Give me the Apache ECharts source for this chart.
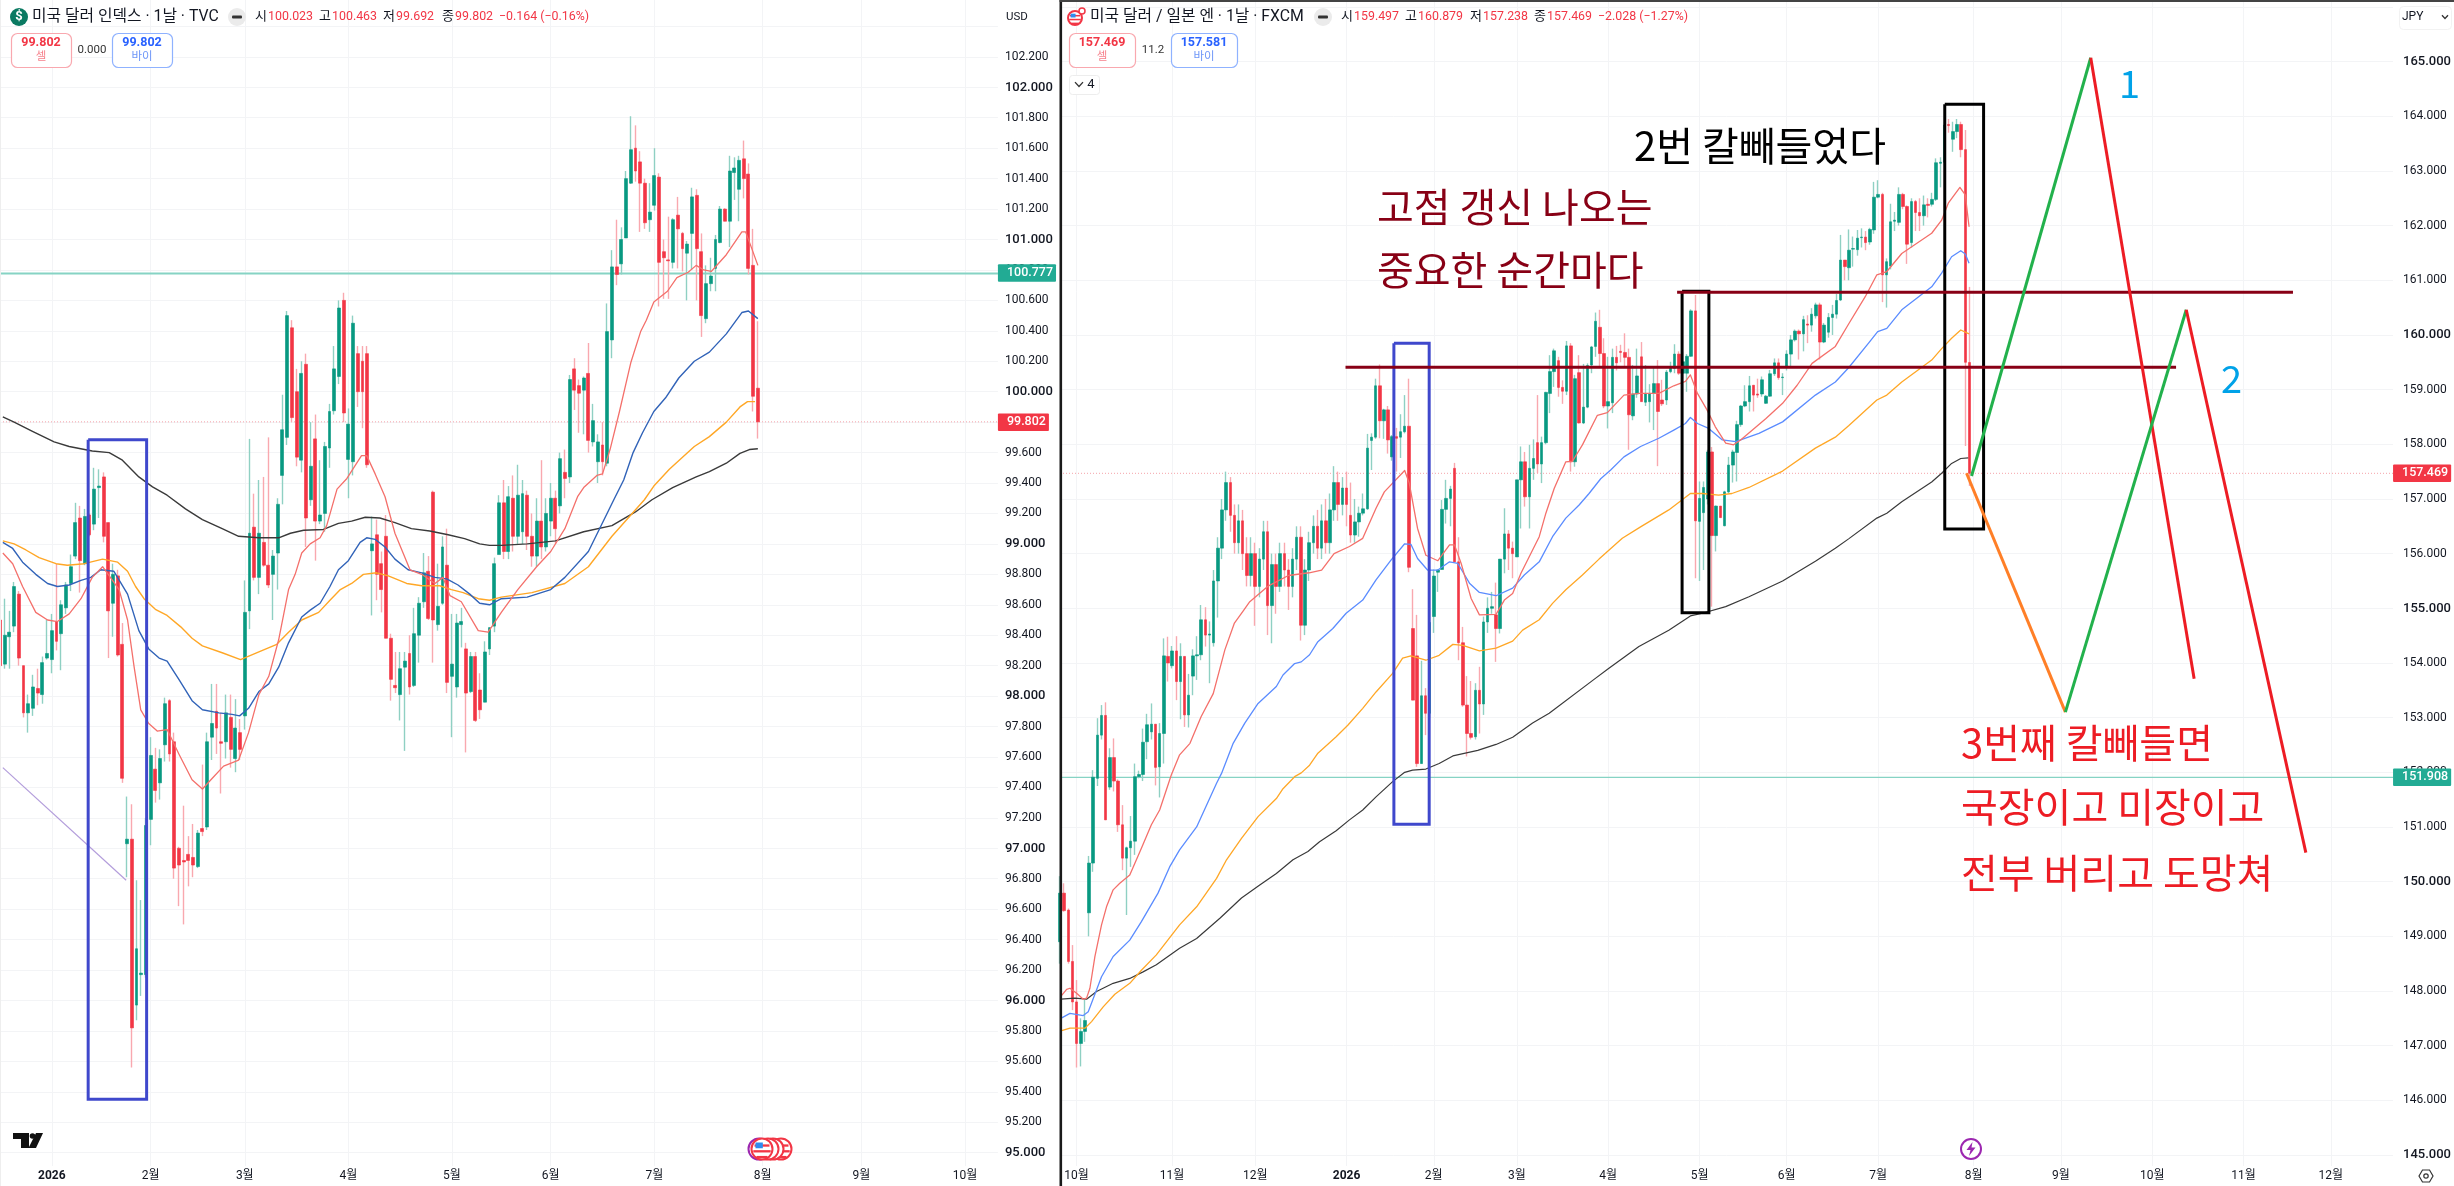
<!DOCTYPE html>
<html><head><meta charset="utf-8">
<script src="https://cdn.jsdelivr.net/npm/echarts@6/dist/echarts.min.js"></script>
<style>html,body{margin:0;padding:0;background:#fff}#c{width:2454px;height:1186px}</style></head>
<body><div id="c"></div>
<script>
// ---------- LEFT PANE : US dollar index, daily ----------
const leftO=[98.5,98.21,98.39,98.46,98.67,98.20,97.89,97.92,98.05,98.01,
98.25,98.24,98.49,98.41,98.58,98.74,98.92,99.17,98.87,99.19,
99.13,99.37,99.44,99.14,98.61,98.79,98.34,97.03,97.06,95.97,
96.17,96.17,97.19,97.52,97.43,97.68,97.97,97.70,97.00,96.92,
96.96,96.94,96.88,97.13,97.14,97.73,97.90,97.70,97.70,97.86,
97.59,97.76,97.87,98.56,99.11,98.78,99.01,98.86,98.80,98.94,
99.45,99.70,100.42,100.0,99.55,100.18,99.29,99.69,99.15,99.20,
99.63,99.875,100.1,100.6,99.555,99.54,100.25,100.2,100.25,98.955,
99.06,98.87,99.05,98.38,98.07,98.01,98.19,98.28,98.07,98.40,
98.62,98.82,99.34,98.47,98.61,98.86,98.13,98.06,98.47,98.31,
98.03,98.26,98.04,97.96,98.31,98.46,98.93,99.27,98.95,99.30,
99.05,99.08,99.32,99.05,98.92,99.15,98.98,99.15,99.3,99.25,
99.47,99.44,100.15,100.04,100.01,100.12,99.67,99.54,99.65,99.53,
100.34,100.82,100.84,101.01,101.37,101.60,101.51,101.37,101.13,101.225,
101.41,100.92,100.866,100.85,101.16,101.04,100.91,101.04,101.29,100.92,
100.48,100.71,100.81,100.98,101.20,101.12,101.44,101.33,101.53,101.43,
100.83,100.023];
const leftH=[98.6,98.64,98.56,98.75,98.69,98.20,98.01,98.14,98.18,98.26,
98.50,98.54,98.87,98.63,98.75,98.93,99.27,99.25,99.23,99.20,
99.50,99.49,99.47,99.14,98.87,98.83,98.48,97.34,97.29,96.79,
96.66,97.20,97.73,97.66,97.65,97.99,97.98,97.76,97.01,97.28,
97.08,97.16,97.12,97.55,97.76,98.08,98.08,97.89,98.01,98.01,
97.98,97.85,98.76,99.69,99.33,99.42,99.44,99.70,98.96,99.30,
99.98,100.53,100.47,100.15,100.2,100.25,99.80,99.85,99.55,99.67,
99.92,100.3,100.60,100.65,99.89,100.5,100.3,100.3,100.3,99.18,
99.16,98.95,99.19,98.41,98.29,98.29,98.29,98.40,98.58,98.65,
98.94,98.92,99.35,98.87,99.05,99.10,98.54,98.54,98.58,98.35,
98.29,98.29,98.15,98.36,98.45,98.91,99.32,99.42,99.38,99.45,
99.52,99.42,99.35,99.2,99.3,99.55,99.3,99.40,99.35,99.6,
99.62,100.11,100.22,100.08,100.10,100.32,99.92,99.72,99.80,100.58,
100.93,101.13,101.08,101.45,101.81,101.75,101.58,101.40,101.37,101.60,
101.435,101.0,101.15,101.14,101.28,101.05,100.99,101.34,101.33,101.04,
100.83,100.88,101.03,101.22,101.205,101.55,101.54,101.55,101.65,101.50,
101.07,100.463];
const leftL=[98.1,98.18,98.18,98.42,98.20,97.86,97.76,97.87,97.94,97.95,
98.24,98.15,98.30,98.17,98.54,98.69,98.90,98.68,98.86,99.05,
99.09,99.17,99.01,98.25,98.39,98.26,97.43,96.81,95.56,95.87,
96.03,96.15,97.02,97.30,97.32,97.57,97.57,96.80,96.62,96.50,
96.75,96.81,96.87,97.08,97.12,97.58,97.62,97.36,97.59,97.53,
97.50,97.58,97.78,98.44,98.76,98.67,98.85,98.71,98.50,98.70,
99.26,99.65,99.80,99.51,99.47,98.98,99.25,98.89,99.13,99.08,
99.50,99.85,100.05,99.8,99.30,99.45,99.9,99.76,99.5,98.53,
98.63,98.55,98.38,97.97,98.02,97.84,97.64,98.01,98.06,98.22,
98.58,98.50,98.22,98.43,98.60,98.02,97.73,97.99,98.32,97.63,
98.02,97.83,97.85,97.96,98.27,98.42,99.0,98.90,98.90,98.95,
99.0,99.0,98.96,98.85,98.85,98.9,98.95,99.05,99.0,99.2,
99.3,99.4,99.88,99.73,99.72,99.60,99.64,99.40,99.45,99.51,
100.22,100.70,100.77,101.01,101.365,101.38,101.05,101.07,101.05,101.19,
100.56,100.61,100.61,100.81,100.81,100.79,100.60,100.80,100.60,100.36,
100.45,100.66,100.66,100.975,101.12,100.95,101.26,101.12,101.27,100.77,
99.87,99.692];
const leftC=[98.2,98.40,98.42,98.72,98.25,97.89,97.95,98.06,98.02,98.22,
98.28,98.43,98.36,98.60,98.73,98.85,99.14,98.89,99.18,99.06,
99.36,99.38,99.05,98.56,98.80,98.27,97.46,97.06,95.82,96.34,
96.18,97.15,97.61,97.38,97.59,97.95,97.62,96.87,96.89,96.91,
96.92,96.89,97.10,97.11,97.70,97.82,97.79,97.69,97.89,97.65,
97.79,97.65,98.55,99.07,98.78,99.07,98.86,98.73,98.92,99.26,
99.75,100.50,99.83,99.57,100.12,99.17,99.51,99.15,99.19,99.64,
99.87,100.15,100.55,99.86,99.787,100.45,100.0,100.0,99.52,99.0,
98.80,98.70,98.38,98.11,98.055,98.18,98.23,98.06,98.41,98.61,
98.81,98.51,98.50,98.59,98.98,98.09,98.21,98.48,98.49,98.02,
98.26,97.84,97.91,98.29,98.45,98.87,99.27,98.95,99.31,99.05,
99.32,99.33,99.05,98.92,99.15,98.98,99.2,99.3,99.1,99.56,
99.43,100.08,100.01,99.99,100.09,99.68,99.81,99.67,99.54,100.395,
100.82,100.77,101.0,101.40,101.59,101.45,101.37,101.11,101.18,101.42,
100.85,100.88,100.86,101.13,101.07,100.94,100.97,101.28,100.94,100.50,
100.71,100.76,101.0,101.20,101.12,101.45,101.47,101.52,101.40,100.81,
99.97,99.802];
const leftRedMA=[[.6,98.94],[2.7,98.87],[4.8,98.72],[7.6,98.55],[10.1,98.50],[12.2,98.49],[14.7,98.54],[17.2,98.64],[19.6,98.78],[21.8,98.85],[23.9,98.76],[25.3,98.70],[27.1,98.50],[28.5,98.19],[29.9,97.91],[31.6,97.82],[33.4,97.77],[35.5,97.78],[38,97.62],[40.8,97.45],[43,97.39],[45.1,97.46],[47.5,97.54],[50.7,97.58],[52.8,97.76],[55,98.01],[57.1,98.13],[59.2,98.37],[61.3,98.70],[62.7,98.80],[64.1,98.94],[65.9,99.0],[68,99.04],[69.4,99.12],[71.6,99.36],[73.7,99.43],[76.8,99.58],[77.9,99.58],[79.7,99.46],[81.8,99.31],[83.9,99.07],[87.1,98.83],[89.6,98.80],[92.4,98.74],[94.1,98.78],[95.6,98.66],[98,98.62],[101.6,98.43],[103.7,98.42],[106.5,98.55],[110,98.70],[114,98.85],[117,98.95],[120,99.1],[122.7,99.31],[124,99.37],[126.8,99.45],[128,99.46],[129.6,99.62],[131.6,99.87],[134,100.19],[136.1,100.395],[137.3,100.47],[138.9,100.59],[141.8,100.66],[143.8,100.75],[146.2,100.785],[147.9,100.83],[149.5,100.80],[151.1,100.79],[154.3,100.90],[157.6,101.05],[158.4,101.05],[159.6,100.95],[161,100.83]];
const leftBlueMA=[[.6,99.01],[2.7,98.97],[4.8,98.88],[7.6,98.80],[10.1,98.74],[12.2,98.72],[14.7,98.73],[17.2,98.76],[19.3,98.78],[21.4,98.83],[24.2,98.82],[27.1,98.67],[29.5,98.43],[31.6,98.31],[33.8,98.25],[35.5,98.23],[38,98.11],[40.8,97.97],[43,97.91],[46.5,97.89],[49.3,97.88],[50.9,97.87],[52.8,97.92],[55,98.03],[57.1,98.08],[59.2,98.19],[61.3,98.35],[64.1,98.52],[65.9,98.565],[68,98.61],[70.1,98.72],[71.9,98.83],[74,98.89],[76.5,99.01],[77.9,99.04],[79.7,99.03],[81.8,98.98],[83.9,98.90],[86.7,98.83],[89.6,98.81],[92.4,98.78],[94.9,98.77],[97.3,98.73],[99.8,98.67],[101.9,98.61],[104,98.60],[106.5,98.64],[112,98.65],[117,98.70],[120,98.78],[125,98.95],[130.4,99.29],[132.5,99.42],[134.5,99.60],[136.5,99.73],[138.9,99.87],[141.4,99.96],[144.2,100.09],[147.5,100.20],[150.7,100.26],[154.3,100.38],[157.6,100.52],[159,100.53],[161,100.48]];
const leftOrangeMA=[[.6,99.02],[3,99.0],[5.5,98.96],[8.3,98.91],[11.9,98.87],[14.3,98.86],[17.9,98.87],[21.8,98.90],[25,98.88],[27.1,98.82],[28.8,98.72],[30.6,98.64],[33,98.57],[35.5,98.53],[38.4,98.455],[40.8,98.38],[43,98.33],[47.2,98.285],[51.1,98.24],[55,98.29],[58.8,98.34],[61.3,98.42],[64.1,98.50],[67.7,98.55],[70.1,98.63],[72.3,98.70],[74.7,98.74],[77.2,98.80],[80,98.81],[82.5,98.79],[86.4,98.74],[89.6,98.725],[93.4,98.725],[95.9,98.70],[98.4,98.68],[101.6,98.64],[104,98.63],[106.5,98.65],[113,98.68],[120,98.74],[125,98.85],[130,99.05],[136.9,99.29],[138.9,99.38],[142.2,99.49],[147.5,99.64],[150.7,99.705],[154.3,99.80],[157.2,99.90],[158.8,99.935],[160.4,99.935]];
const leftBlackMA=[[.6,99.835],[3,99.80],[6.9,99.74],[11.5,99.67],[14.7,99.64],[19.6,99.61],[23.2,99.60],[26,99.55],[29.5,99.44],[32.4,99.375],[35.5,99.32],[39.4,99.23],[43,99.16],[47.2,99.10],[50.7,99.05],[55,99.04],[59.2,99.04],[61.7,99.07],[64.5,99.09],[68.7,99.095],[71.9,99.135],[74.7,99.15],[77.6,99.175],[80.7,99.17],[83.9,99.14],[87.4,99.10],[91.3,99.085],[95.2,99.06],[98.7,99.035],[101.9,99.0],[104,98.99],[106.5,98.99],[112,99.0],[118,99.02],[124,99.08],[130,99.12],[135,99.21],[138.5,99.29],[142.9,99.37],[147.9,99.44],[150.7,99.475],[154.3,99.53],[157.2,99.595],[159.2,99.62],[161,99.625]];
const leftTrend=[[.6,97.53],[26.8,96.79]];
const leftBox=[[18.73,99.685],[31.15,99.685],[31.15,95.351],[18.73,95.351],[18.73,99.685]];
const leftTicks=[95,95.2,95.4,95.6,95.8,96,96.2,96.4,96.6,96.8,97,97.2,97.4,97.6,97.8,98,98.2,98.4,98.6,98.8,99,99.2,99.4,99.6,99.8,100,100.2,100.4,100.6,100.8,101,101.2,101.4,101.6,101.8,102,102.2];
const leftGridOnly=[102.4];
const leftMonthBars=[11,32,52,74,96,117,139,162,183,205];
const leftMonthLabels=['2026','2월','3월','4월','5월','6월','7월','8월','9월','10월'];
const leftAlert=100.777, leftLast=99.802;

// ---------- RIGHT PANE : USD/JPY, daily ----------
const rightO=[148.9,149.79,149.48,148.54,147.80,147.04,147.26,149.43,150.34,151.89,
152.68,153.04,151.73,152.27,151.84,151.04,150.43,150.62,150.74,151.92,
151.96,152.56,152.74,152.88,152.1,152.71,154.12,153.95,154.22,153.66,
154.12,153.05,153.76,154.13,154.15,154.79,154.51,154.37,155.5,156.1,
156.8,157.3,156.7,156.2,156.6,156.0,155.6,156.0,155.4,155.9,
156.4,155.05,155.8,155.4,156.0,155.7,155.4,155.9,156.3,154.69,
155.7,156.2,156.5,156.1,156.6,156.2,156.8,157.3,156.9,157.2,
156.7,156.34,156.58,156.74,156.82,158.07,158.13,159.07,158.43,158.63,
157.77,158.14,158.13,158.23,158.33,154.63,154.13,152.16,153.4,153.08,
154.85,155.66,155.71,156.81,157.01,157.56,155.85,154.37,153.23,152.71,
152.65,153.5,153.25,154.75,155.0,154.88,154.63,155.9,156.36,156.1,
155.94,157.35,157.68,157.04,157.56,158.03,157.64,158.03,158.93,159.33,
159.53,159.04,158.97,159.8,157.68,159.31,158.39,158.68,159.45,159.79,
160.14,159.66,158.7,158.76,159.59,159.7,159.68,159.59,158.52,158.92,
159.6,158.77,158.78,158.93,159.11,158.81,158.81,159.33,159.39,159.65,
159.3,159.3,159.61,160.44,156.59,156.75,157.0,157.86,156.33,156.87,
156.51,157.13,157.62,157.85,158.36,158.7,158.78,159.08,158.92,158.92,
158.75,158.88,159.29,159.49,159.22,159.43,159.65,159.91,160.07,160.02,
160.2,160.18,160.35,160.55,159.87,160.05,160.32,160.38,160.64,161.37,
161.23,161.57,161.56,161.78,161.79,161.7,161.92,162.52,162.57,161.1,
161.26,162.08,162.06,162.57,162.35,161.69,162.44,162.24,162.18,162.39,
162.39,162.48,163.14,163.16,163.85,163.58,163.72,163.85,163.39,159.497];
const rightH=[150.1,149.97,149.51,148.84,148.2,147.5,147.84,150.47,152.04,152.99,
153.23,153.28,152.44,152.62,151.87,151.4,150.64,151.2,152.16,152.03,
152.8,153.07,153.26,152.88,152.9,154.45,154.48,154.31,154.49,154.36,
154.12,153.8,154.25,154.49,155.06,155.02,154.76,155.7,156.3,157.0,
157.5,157.4,156.9,156.9,156.8,156.3,156.3,156.2,156.1,156.6,
156.6,156.0,156.0,156.2,156.2,155.9,156.1,156.5,156.5,155.9,
156.4,156.7,156.8,156.9,157.0,157.1,157.6,157.5,157.4,157.5,
157.3,157.0,156.86,157.1,158.19,158.2,159.2,159.46,158.65,158.7,
158.17,158.3,158.55,158.9,159.2,155.35,154.88,154.04,153.54,155.0,
155.71,155.71,156.98,157.35,157.24,157.66,156.3,154.66,153.76,153.67,
153.63,153.93,154.85,155.2,155.3,155.47,155.9,156.83,156.43,156.22,
157.35,157.96,157.86,157.99,158.09,158.9,158.14,158.96,159.63,159.75,
159.6,159.17,159.89,159.85,159.27,159.63,159.47,159.48,159.8,160.41,
160.46,159.94,159.6,159.75,159.8,159.82,160.03,159.75,159.45,159.75,
159.87,159.45,159.1,159.41,159.54,159.18,159.36,159.51,159.83,159.7,
159.7,159.65,160.47,160.73,157.32,157.32,157.9,157.95,156.88,156.87,
157.15,157.77,157.9,158.43,158.72,159.08,159.25,159.08,159.2,159.24,
158.9,159.36,159.57,159.57,159.3,159.72,160.0,160.1,160.1,160.35,
160.36,160.49,160.59,160.59,160.22,160.4,160.55,160.75,161.83,161.37,
161.93,161.8,161.92,161.95,161.9,161.96,162.8,162.83,162.6,161.4,
162.4,162.25,162.7,162.6,162.37,162.5,162.47,162.5,162.55,162.5,
162.6,163.23,163.25,163.9,163.95,163.9,163.95,163.9,163.75,160.879];
const rightL=[148.5,149.45,148.50,147.65,146.60,146.62,147.07,149.0,150.18,151.75,
152.6,151.13,151.68,151.65,150.91,150.21,149.39,150.27,150.49,151.89,
151.84,152.24,152.6,151.76,151.54,152.16,153.66,153.9,153.32,152.97,
152.83,152.82,153.41,153.69,154.05,154.3,153.63,154.3,154.83,155.9,
156.6,156.4,156.0,156.0,155.7,155.4,155.4,154.68,155.2,155.7,
154.51,154.36,154.9,155.3,155.4,154.97,155.2,155.7,154.41,154.51,
155.5,156.0,155.9,155.9,156.0,156.0,156.6,156.6,156.7,156.5,
156.2,156.2,156.31,156.7,156.8,157.53,158.1,158.11,158.1,157.83,
157.7,157.5,157.75,158.2,155.66,153.32,152.1,152.16,152.68,153.0,
154.55,155.3,155.71,156.55,156.5,155.85,154.05,153.2,152.29,152.6,
152.6,152.71,153.05,154.55,154.9,154.02,154.54,155.64,155.7,155.55,
155.94,156.46,156.86,156.46,157.35,157.47,157.29,158.0,158.57,159.05,
158.87,158.74,158.9,157.5,157.59,158.38,158.37,158.66,159.3,159.6,
159.42,158.66,158.29,158.57,159.35,159.5,159.4,157.9,158.44,158.85,
158.78,158.7,158.4,158.26,157.6,158.7,158.72,159.3,159.3,159.27,
159.2,158.96,159.6,155.55,155.5,155.7,156.9,155.03,156.04,156.65,
156.5,157.1,157.3,157.32,158.32,158.68,158.6,158.6,158.85,158.87,
158.74,158.87,159.25,159.18,158.9,159.35,159.4,159.88,159.55,159.7,
159.85,160.06,160.3,159.55,159.85,159.95,160.0,160.3,160.62,161.0,
161.0,161.25,161.45,161.6,161.55,161.65,161.85,162.5,160.6,160.5,
161.2,161.9,162.0,162.3,161.3,161.6,161.9,161.9,162.0,162.15,
162.35,162.45,162.7,163.1,163.7,163.35,163.6,163.25,157.97,157.238];
const rightC=[149.79,149.47,148.54,147.80,147.04,147.26,147.46,150.34,151.91,152.68,
153.04,151.13,152.27,151.84,151.04,150.43,150.62,150.74,151.92,151.96,
152.55,152.87,152.88,152.09,152.71,154.13,154.0,154.22,153.66,154.12,
153.05,153.41,154.13,154.15,154.79,154.51,154.53,155.5,156.1,156.8,
157.3,156.7,156.2,156.6,156.0,155.6,156.0,155.4,155.9,156.4,
155.05,155.8,155.4,156.0,155.7,155.4,155.9,156.3,154.69,155.7,
156.2,156.5,156.1,156.6,156.2,156.8,157.3,156.9,157.2,156.9,
156.34,156.58,156.74,156.82,157.93,158.13,159.07,158.43,158.63,158.08,
158.14,158.11,158.23,158.33,155.75,153.32,152.16,153.4,153.08,154.74,
155.59,155.7,156.81,157.01,157.18,155.85,154.37,153.23,152.71,152.64,
153.5,153.25,154.75,155.0,155.03,154.63,155.9,156.36,156.1,156.0,
157.35,157.68,157.04,157.56,157.74,157.64,158.03,158.95,159.33,159.71,
159.04,158.97,159.8,157.68,159.2,158.39,158.68,159.44,159.78,160.25,
159.66,158.7,158.78,159.59,159.49,159.68,159.59,158.54,158.92,159.25,
158.78,158.93,158.93,159.11,158.6,158.74,159.32,159.41,159.65,159.3,
159.51,159.61,160.44,156.6,157.01,157.21,157.86,156.33,156.87,156.66,
157.13,157.62,157.86,158.36,158.7,158.78,159.07,158.9,158.9,159.18,
158.88,159.29,159.49,159.22,159.23,159.65,159.91,160.07,160.02,160.28,
160.18,160.38,160.55,159.87,160.18,160.32,160.38,160.63,161.37,161.25,
161.55,161.58,161.77,161.79,161.69,161.93,162.52,162.57,161.1,161.34,
162.07,162.1,162.57,162.35,161.66,162.44,162.24,162.18,162.38,162.37,
162.48,163.15,163.16,163.84,163.83,163.72,163.85,163.39,159.5,157.469];
const rightRedMA=[[.2,147.9],[1.6,148.03],[2.4,148.05],[4,147.96],[5.6,147.85],[6.4,147.87],[7.2,148.05],[8.4,148.63],[10,149.21],[11.2,149.54],[12.8,149.85],[14.4,149.97],[16.8,150.12],[19.6,150.61],[22,151.04],[24,151.31],[26.8,151.95],[28.8,152.32],[31.3,152.53],[34,153.02],[36.9,153.44],[39.7,154.24],[42,154.73],[44,154.94],[45.7,155.12],[50,155.4],[55,155.6],[60,155.65],[63,155.7],[66,156.0],[69.7,156.13],[72.9,156.28],[76.1,156.83],[78.1,157.13],[83,157.52],[84.1,157.29],[86.1,156.46],[88.1,155.97],[91,155.87],[93.8,156.16],[95,156.16],[96.6,155.82],[99,155.18],[101,154.88],[105,154.89],[107,155.15],[109,155.27],[111,155.64],[115.4,156.31],[117,156.74],[119,157.19],[121.8,157.68],[123.4,157.69],[125.8,157.99],[129.4,158.53],[131.8,158.58],[135.8,158.9],[139.4,158.93],[144.2,158.93],[147.8,159.07],[150.6,159.15],[151.8,159.27],[153.5,158.93],[155.8,158.63],[157.8,158.32],[160.3,158.02],[162.2,157.99],[163.9,158.08],[170,158.47],[174,158.75],[177.5,159.08],[181.1,159.48],[186.7,159.79],[189.9,160.2],[193.9,160.7],[196.7,161.1],[199.1,161.16],[202.7,161.49],[209.9,161.86],[212.3,162.1],[213.9,162.41],[216.7,162.7],[218,162.56],[218.9,161.98]];
const rightBlueMA=[[.2,147.5],[2.4,147.59],[5.6,147.55],[6.8,147.62],[10,148.26],[12.8,148.63],[16.8,148.93],[19.6,149.27],[23.6,149.79],[26.4,150.27],[28.8,150.58],[32.9,151.0],[37.7,151.8],[38.9,151.98],[41.7,152.53],[44.5,152.9],[47.7,153.26],[52.1,153.57],[53.7,153.78],[56.5,153.99],[58.1,154.02],[60.1,154.15],[62.1,154.39],[65.7,154.63],[68.9,154.91],[72.9,155.15],[76.1,155.52],[79.7,155.88],[83,156.18],[84.5,156.17],[86.1,155.91],[88.5,155.7],[91,155.7],[93.8,155.85],[95.8,155.82],[98.6,155.46],[101,155.29],[105,155.23],[109,155.37],[111.8,155.61],[115.4,155.85],[118.6,156.31],[121.8,156.65],[125,156.89],[127.4,157.1],[130.2,157.37],[132.6,157.53],[135.8,157.77],[139.8,157.96],[144.2,158.11],[147.8,158.26],[150.6,158.38],[151.8,158.49],[153.5,158.38],[156.2,158.29],[159.5,158.08],[162.7,158.05],[168.3,158.2],[174,158.41],[181.9,158.9],[186.7,159.14],[189.9,159.4],[194.7,159.85],[196.9,160.06],[199.1,160.12],[202.7,160.46],[209.9,160.88],[212.3,161.13],[214.7,161.43],[216.9,161.54],[218,161.48],[218.9,161.31]];
const rightOrangeMA=[[.2,147.27],[2.4,147.32],[6,147.32],[7.6,147.44],[10.4,147.71],[13.2,147.94],[16.8,148.14],[19.6,148.38],[23.2,148.66],[28.8,149.21],[32.9,149.54],[37.7,150.06],[40.1,150.4],[43.7,150.79],[47.7,151.19],[52.1,151.52],[53.7,151.7],[56.5,151.92],[58.1,151.99],[60.1,152.13],[62.1,152.35],[66.5,152.65],[69.3,152.86],[72.9,153.17],[76.1,153.47],[80.1,153.81],[82.5,154.09],[84.5,154.13],[88.1,154.05],[91.3,154.14],[94.6,154.34],[97,154.32],[101,154.22],[105,154.27],[109,154.4],[111.4,154.6],[115.4,154.79],[118.6,155.09],[121.8,155.34],[125.8,155.61],[129.8,155.9],[135.4,156.28],[139.8,156.49],[146.6,156.8],[151.8,157.1],[154.7,157.1],[158.6,157.07],[161.8,157.1],[165.9,157.21],[174,157.51],[181.9,157.93],[186.7,158.13],[189.9,158.34],[196.7,158.81],[199.1,158.9],[202.7,159.14],[209.9,159.54],[212.3,159.75],[214.7,159.94],[216.9,160.09],[218.9,160.02]];
const rightBlackMA=[[.2,147.85],[3.6,147.87],[6.4,147.85],[8.8,147.99],[12.8,148.14],[16.8,148.23],[20,148.35],[23.2,148.48],[28.8,148.78],[32.9,148.96],[38.5,149.33],[43.7,149.7],[48.1,149.94],[52.1,150.15],[56.1,150.4],[59.7,150.55],[62.5,150.73],[66.5,150.93],[69.7,151.13],[72.9,151.31],[76.1,151.55],[80.1,151.83],[83,152.0],[84.9,152.04],[88.1,152.06],[91.3,152.16],[94.6,152.3],[100.6,152.4],[105,152.51],[109,152.64],[113.8,152.9],[117.8,153.08],[128.6,153.7],[132.1,153.9],[139.4,154.3],[146.6,154.6],[151.8,154.86],[154.7,154.91],[160.3,155.03],[165.9,155.21],[174,155.5],[181.9,155.86],[186.7,156.1],[189.9,156.27],[196.7,156.65],[199.1,156.74],[202.7,156.95],[209.9,157.31],[212.3,157.47],[214.7,157.65],[216.9,157.74],[218.7,157.75]];
const rightBlueBox=[[80.4,159.85],[88.9,159.85],[88.9,151.05],[80.4,151.05],[80.4,159.85]];
const rightBlackBox1=[[149.8,160.80],[156.25,160.80],[156.25,154.92],[149.8,154.92],[149.8,160.80]];
const rightBlackBox2=[[213.05,164.22],[222.4,164.22],[222.4,156.45],[213.05,156.45],[213.05,164.22]];
const rightLevelLow=[[68.75,159.41],[268.75,159.41]];
const rightLevelHigh=[[148.6,160.78],[296.9,160.78]];
const rightGreen1=[[219.5,157.42],[248.2,165.07]];
const rightRed1=[[248.2,165.07],[273.1,153.71]];
const rightOrange=[[218.3,157.47],[242.1,153.10]];
const rightGreen2=[[242.1,153.10],[271.2,160.46]];
const rightRed2=[[271.2,160.46],[300,150.53]];
const rightTicks=[145,146,147,148,149,150,151,152,153,154,155,156,157,158,159,160,161,162,163,164,165];
const rightGridOnly=[166];
const rightMonthBars=[4,27,47,69,90,110,132,154,175,197,220,241,263,285,306];
const rightMonthLabels=['10월','11월','12월','2026','2월','3월','4월','5월','6월','7월','8월','9월','10월','11월','12월'];
const rightAlert=151.908, rightLast=157.469;

// ---------- drawing helpers ----------
const FONT='Roboto, "Noto Sans CJK KR", sans-serif';
const KFONT='"Noto Sans CJK KR", sans-serif';
const UP='#089981', DOWN='#F23645', UPW='#8FD0C3', DOWNW='#F9A8AF', INK='#131722';

function pane(idx,cfg){
  const cats=Array.from({length:cfg.count},(_,i)=>String(i));
  const labelAt=new Map(cfg.monthBars.map((b,i)=>[String(b),cfg.monthLabels[i]]));
  const isTick=(i)=>labelAt.has(String(i));
  const grid={left:cfg.left,width:cfg.width,top:0,height:1166,containLabel:false};
  const gridLine={show:true,lineStyle:{color:'#F3F4F6',width:1}};
  const xCat={type:'category',gridIndex:idx,data:cats,boundaryGap:false,position:'bottom',
    axisLine:{show:false},axisTick:{show:false},splitLine:{...gridLine,interval:(i)=>isTick(i)},
    axisLabel:{show:true,interval:(i)=>isTick(i),margin:4,color:INK,fontSize:12,fontFamily:FONT,
      formatter:(v)=>{const s=labelAt.get(v)||'';return s==='2026'?'{b|2026}':s;},
      rich:{b:{fontWeight:'bold',fontSize:12,color:INK,fontFamily:FONT}}}};
  const xVal={type:'value',gridIndex:idx,show:false,min:0,max:cfg.count-1,position:'top',splitLine:{show:false}};
  const y={type:'value',gridIndex:idx,position:'right',min:cfg.min,max:cfg.max,scale:true,
    axisLine:{show:false},
    axisTick:{show:false,customValues:cfg.ticks.concat(cfg.gridOnly)},
    splitLine:gridLine,
    axisLabel:{show:true,margin:cfg.margin,color:INK,fontSize:12,fontFamily:FONT,customValues:cfg.ticks,
      formatter:(v)=>{const s=v.toFixed(3);return cfg.major(v)?'{b|'+s+'}':s;},
      rich:{b:{fontWeight:500,fontSize:13,color:INK,fontFamily:FONT}}}};
  const xc=idx*2, xv=idx*2+1;
  const wick=cfg.o.map((o,i)=>[o,cfg.c[i],cfg.l[i],cfg.h[i]]);
  const body=cfg.o.map((o,i)=>[o,cfg.c[i],Math.min(o,cfg.c[i]),Math.max(o,cfg.c[i])]);
  const base={type:'candlestick',xAxisIndex:xc,yAxisIndex:idx,animation:false,silent:true,clip:true};
  const series=[
    {...base,data:wick,barWidth:1,itemStyle:{color:UPW,color0:DOWNW,borderColor:UPW,borderColor0:DOWNW,borderWidth:1.4}},
    {...base,data:body,barWidth:cfg.bodyWidth,itemStyle:{color:UP,color0:DOWN,borderColor:UP,borderColor0:DOWN,borderWidth:0.6}}
  ];
  const line=(data,color,width,extra)=>({type:'line',xAxisIndex:xv,yAxisIndex:idx,data,showSymbol:false,symbol:'none',animation:false,silent:true,clip:true,
    lineStyle:{color,width,join:'round',...(extra||{})},z:3});
  cfg.mas.forEach(m=>series.push(line(m[0],m[1],m[2])));
  const priceLine=(v,color,width,type,labelColor,z)=>({...line([[0,v],[cfg.count-1,v]],color,width,{type}),z:z,
    markLine:{silent:true,symbol:'none',animation:false,lineStyle:{color:'transparent',width:0},
      data:[{yAxis:v}],label:{show:true,position:'end',distance:0,formatter:v.toFixed(3),color:'#fff',backgroundColor:labelColor,fontWeight:500,
        padding:[3,cfg.badgePad,2,9],fontSize:12.5,fontFamily:FONT,borderRadius:1}}});
  series.push(priceLine(cfg.alert,'#86D3C4',cfg.alertWidth,'solid','#22AB94',2));
  series.push(priceLine(cfg.last,'#F5A3AA',1,[1,2],'#F23645',2));
  cfg.drawings.forEach(d=>{const s=line(d[0],d[1],d[2],{join:'miter'});s.z=5;series.push(s);});
  return {grid,axesX:[xCat,xVal],y,series};
}

const L=pane(0,{left:-2.72,width:1000.64,count:213,min:95-(1166-1152.7)/152.2,max:95+1152.7/152.2,
  o:leftO,h:leftH,l:leftL,c:leftC,bodyWidth:3.4,margin:7,badgePad:3,ticks:leftTicks,gridOnly:leftGridOnly,
  major:(v)=>Math.abs(v-Math.round(v))<1e-6,monthBars:leftMonthBars,monthLabels:leftMonthLabels,alert:leftAlert,alertWidth:2,last:leftLast,
  mas:[[leftBlackMA,'#3A3A3A',1.4],[leftOrangeMA,'#FFA726',1.4],[leftBlueMA,'#3163B8',1.4],[leftRedMA,'#F4706B',1.3]],
  drawings:[[leftTrend,'#B39DDB',1.2],[leftBox,'#3F48CC',3]]});
const R=pane(1,{left:1060,width:1335.36,count:322,min:145-(1166-1155)/54.67,max:145+1155/54.67,
  o:rightO,h:rightH,l:rightL,c:rightC,bodyWidth:3,margin:10,badgePad:3,ticks:rightTicks,gridOnly:rightGridOnly,
  major:(v)=>v%5===0,monthBars:rightMonthBars,monthLabels:rightMonthLabels,alert:rightAlert,alertWidth:1.4,last:rightLast,
  mas:[[rightBlackMA,'#3A3A3A',1.2],[rightOrangeMA,'#FFA726',1.3],[rightBlueMA,'#5B8CFF',1.3],[rightRedMA,'#F4706B',1.3]],
  drawings:[[rightBlueBox,'#3F48CC',3],[rightBlackBox1,'#000',3],[rightBlackBox2,'#000',3],[rightLevelLow,'#880015',3],[rightLevelHigh,'#880015',3],
    [rightGreen1,'#22B14C',3],[rightRed1,'#ED1C24',3],[rightOrange,'#FF7F27',3],[rightGreen2,'#22B14C',3],[rightRed2,'#ED1C24',3]]});

// ---------- chrome : legends, buttons, notes ----------
const g=[];
const text=(x,y,t,fill,font,align)=>g.push({type:'text',x,y,z:50,silent:true,style:{text:t,fill,font,align:align||'left',verticalAlign:'middle'}});
const rect=(x,y,w,h,fill,stroke,r,lw)=>g.push({type:'rect',z:49,silent:true,shape:{x,y,width:w,height:h,r:r||0},style:{fill:fill||'none',stroke:stroke||'none',lineWidth:lw||1}});
const circle=(cx,cy,r,fill,stroke,lw)=>g.push({type:'circle',z:49,silent:true,shape:{cx,cy,r},style:{fill:fill||'none',stroke:stroke||'none',lineWidth:lw||1}});
const poly=(pts,fill)=>g.push({type:'polygon',z:49,silent:true,shape:{points:pts},style:{fill}});
const chevron=(cx,cy,w)=>g.push({type:'polyline',z:50,silent:true,shape:{points:[[cx-w,cy-w*.6],[cx,cy+w*.5],[cx+w,cy-w*.6]]},style:{fill:'none',stroke:'#333',lineWidth:1.3}});
const flag=(cx,cy,r)=>{circle(cx,cy,r,'#fff','#F23645',2);
  for(let i=-1;i<=1;i++){const o=(i+.2)*r*.55;const w=Math.sqrt(Math.max(0,r*r*.7-o*o));rect(cx-w,cy+o,2*w,r*.22,'#F23645');}
  rect(cx-r*.62,cy-r*.62,r*.7,r*.55,'#2E8BEF');};

function legend(title,titleX,minusX,vals,boxL,boxW,gapX,boxR,sell,buy,spread){
  text(titleX,17,title,INK,'15.8px '+FONT);
  circle(minusX,17,9,'#EBEBEB'); rect(minusX-5,15.5,10,3,'#333',null,1);
  const lab=['시','고','저','종'];
  lab.forEach((s,i)=>{text(vals[i][0],17,s,INK,'13px '+FONT);text(vals[i][0]+13,17,vals[i][1],DOWN,'12.4px '+FONT);});
  text(vals[4][0],17,vals[4][1],DOWN,'12.4px '+FONT);
  rect(boxL+.5,33.5,boxW,34,'#fff','#F9A8AF',6,1.2);
  text(boxL+boxW/2,43,sell,DOWN,'bold 12.5px '+FONT,'center');
  text(boxL+boxW/2,56,'셀','#F6808B','11.5px '+KFONT,'center');
  text(gapX,50,spread,'#333','11.5px '+FONT,'center');
  rect(boxR+.5,33.5,boxW,34,'#fff','#8FB2FF',6,1.2);
  text(boxR+boxW/2,43,buy,'#2962FF','bold 12.5px '+FONT,'center');
  text(boxR+boxW/2,56,'바이','#6E96F8','11.5px '+KFONT,'center');
}
// left legend
circle(19,17,9,'#0B7A62');
text(19,17,'$','#fff','bold 13px '+FONT,'center');
legend('미국 달러 인덱스 · 1날 · TVC',32,237,[[255,'100.023'],[319,'100.463'],[383,'99.692'],[442,'99.802'],[499,'−0.164 (−0.16%)']],11,60,92,112,'99.802','99.802','0.000');
// right legend
flag(1075,18,7);
circle(1082,11,3,'#fff','#F23645',1.5);
legend('미국 달러 / 일본 엔 · 1날 · FXCM',1090,1323,[[1341,'159.497'],[1405,'160.879'],[1470,'157.238'],[1534,'157.469'],[1598,'−2.028 (−1.27%)']],1069,66,1153,1171,'157.469','157.581','11.2');
rect(1069.5,75.5,30,19,'#fff','#EDEDED',3,1);
chevron(1079,84.5,4);
text(1091,85,'4',INK,'13px '+FONT,'center');
// currency selectors
text(1006,17,'USD',INK,'11.5px '+FONT);
rect(2399.5,6.5,52,23,'#fff','#F2F2F2',4,1);
text(2402,17,'JPY',INK,'12px '+FONT);
chevron(2445,17,3);
// pane frame
rect(1059.5,0,2.6,1186,'#1A1A1A');
rect(1059.5,0,1394.5,2,'#444');
rect(0,0,1,1186,'#EEE');
// logo
poly([[13,1133],[29,1133],[29,1148],[21,1148],[21,1139],[13,1139]],'#111');
circle(32.5,1136,2.8,'#111');
poly([[36,1133],[43,1133],[36,1148],[28.5,1148]],'#111');
// event markers
circle(759,1149,10.5,'#fff','#9C27B0',2);
flag(781,1149,10.5);
[773,768].forEach(c=>circle(c,1149,10.5,'#fff','#F23645',2));
flag(762,1149,10.5);
circle(1971,1149,10,'#fff','#9C27B0',2);
poly([[1972.5,1142],[1966.5,1150],[1970.5,1150],[1969,1156],[1975.5,1147.5],[1971.5,1147.5]],'#9C27B0');
// settings hexagon
g.push({type:'polygon',z:49,silent:true,shape:{points:[[2419,1176],[2422.5,1170],[2429.5,1170],[2433,1176],[2429.5,1182],[2422.5,1182]]},style:{fill:'none',stroke:'#333',lineWidth:1.2}});
circle(2426,1176,2.2,'none','#333',1.2);
// handwritten notes
const NOTE=KFONT;
text(1377,207,'고점 갱신 나오는','#880015','40px '+NOTE);
text(1377,270,'중요한 순간마다','#880015','40px '+NOTE);
text(1634,146,'2번 칼빼들었다','#000','40px '+NOTE);
text(2119,84,'1','#00A2E8','38px '+NOTE);
text(2221,379,'2','#00A2E8','38px '+NOTE);
text(1961,743,'3번째 칼빼들면','#ED1C24','40px '+NOTE);
text(1961,807,'국장이고 미장이고','#ED1C24','40px '+NOTE);
text(1961,873,'전부 버리고 도망쳐','#ED1C24','40px '+NOTE);

const chart=echarts.init(document.getElementById('c'),null,{renderer:'canvas',width:2454,height:1186});
chart.setOption({
  animation:false,backgroundColor:'#fff',
  grid:[L.grid,R.grid],
  xAxis:[...L.axesX,...R.axesX],
  yAxis:[L.y,R.y],
  series:[...L.series,...R.series],
  graphic:{elements:g}
});
</script></body></html>
